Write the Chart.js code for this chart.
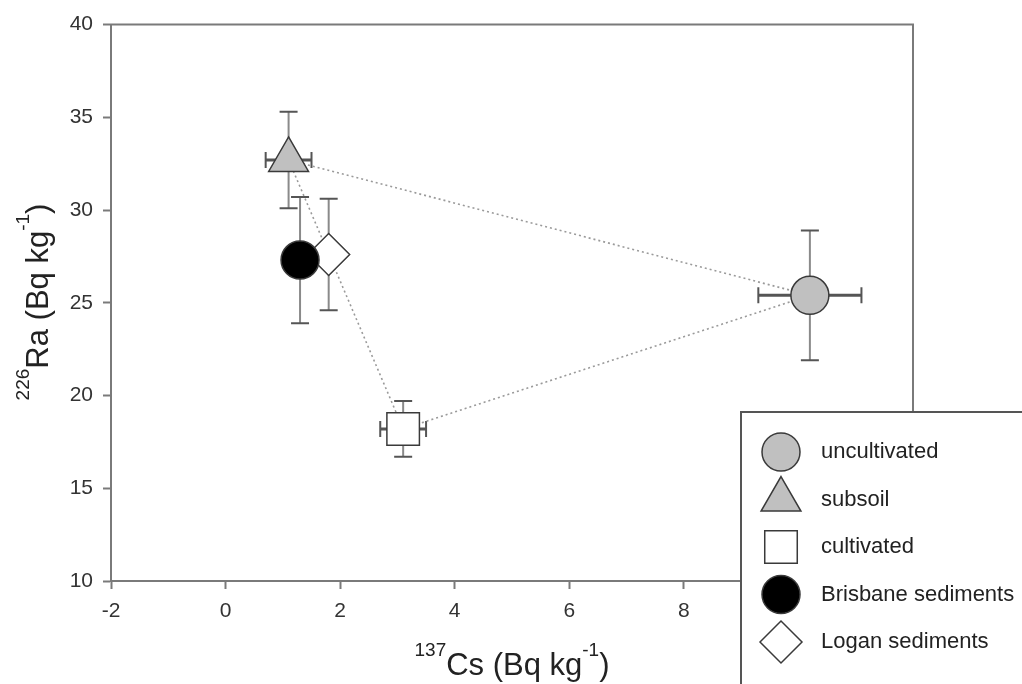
<!DOCTYPE html>
<html>
<head>
<meta charset="utf-8">
<script src="https://cdn.jsdelivr.net/npm/chart.js@4/dist/chart.umd.min.js"></script>
<style>
  html, body { margin: 0; padding: 0; background: #fff; }
</style>
</head>
<body>
<canvas id="chartCanvas" width="1022" height="684"></canvas>
<script>
// data
const groups = ['uncultivated', 'subsoil', 'cultivated', 'Brisbane sediments', 'Logan sediments'];
const csValues = [10.2, 1.1, 3.1, 1.3, 1.8];     // 137Cs, Bq/kg
const raValues = [25.4, 32.7, 18.2, 27.3, 27.6];  // 226Ra, Bq/kg
const csErrors = [0.9, 0.4, 0.4, 0, 0];
const raErrors = [3.5, 2.6, 1.5, 3.4, 3.0];
const polygonOrder = ['subsoil', 'uncultivated', 'cultivated', 'subsoil'];
const xTicks = [-2, 0, 2, 4, 6, 8];
const yTicks = [10, 15, 20, 25, 30, 35, 40];

const FONT = "'Liberation Sans', Arial, sans-serif";
const markerStyles = ['circle', 'triangle', 'rect', 'circle', 'rectRot'];
const markerSizes = [19, 23, 23, 19, 21];
const markerFills = ['#c0c0c0', '#c0c0c0', '#ffffff', '#000000', '#ffffff'];

const pointSets = groups.map((g, i) => ({
  label: g,
  data: [{ x: csValues[i], y: raValues[i] }],
  pointStyle: markerStyles[i],
  pointRadius: markerSizes[i],
  pointBackgroundColor: markerFills[i],
  pointBorderColor: '#3a3a3a',
  pointBorderWidth: 1.5,
  order: 1
}));

const polygon = {
  label: 'link',
  type: 'line',
  data: polygonOrder.map(g => ({ x: csValues[groups.indexOf(g)], y: raValues[groups.indexOf(g)] })),
  borderColor: '#9a9a9a',
  borderWidth: 1.6,
  borderDash: [2, 3],
  pointRadius: 0,
  fill: false,
  order: 5
};

function drawRich(ctx, parts, cx, cy, angle, size) {
  const supSize = Math.round(size * 0.62);
  ctx.save();
  ctx.translate(cx, cy);
  ctx.rotate(angle);
  let total = 0;
  parts.forEach(p => {
    ctx.font = (p.sup ? supSize : size) + 'px ' + FONT;
    p.w = ctx.measureText(p.t).width;
    total += p.w;
  });
  let x = -total / 2;
  ctx.fillStyle = '#222';
  ctx.textBaseline = 'alphabetic';
  ctx.textAlign = 'left';
  parts.forEach(p => {
    ctx.font = (p.sup ? supSize : size) + 'px ' + FONT;
    ctx.fillText(p.t, x, p.sup ? -size * 0.62 : 0);
    x += p.w;
  });
  ctx.restore();
}

const errorBars = {
  id: 'errorBars',
  beforeDatasetsDraw(chart) {
    const ctx = chart.ctx, xs = chart.scales.x, ys = chart.scales.y;
    const a = chart.chartArea;
    // frame
    ctx.save();
    ctx.strokeStyle = '#7a7a7a';
    ctx.lineWidth = 2;
    ctx.strokeRect(a.left, a.top, a.right - a.left, a.bottom - a.top);
    ctx.restore();

    ctx.save();
    groups.forEach((g, i) => {
      const px = xs.getPixelForValue(csValues[i]);
      const py = ys.getPixelForValue(raValues[i]);
      if (raErrors[i] > 0) {
        const t = ys.getPixelForValue(raValues[i] + raErrors[i]);
        const b = ys.getPixelForValue(raValues[i] - raErrors[i]);
        ctx.strokeStyle = '#8a8a8a';
        ctx.lineWidth = 2;
        ctx.beginPath();
        ctx.moveTo(px, t); ctx.lineTo(px, b);
        ctx.stroke();
        ctx.strokeStyle = '#555';
        ctx.beginPath();
        ctx.moveTo(px - 9, t); ctx.lineTo(px + 9, t);
        ctx.moveTo(px - 9, b); ctx.lineTo(px + 9, b);
        ctx.stroke();
      }
      if (csErrors[i] > 0) {
        const l = xs.getPixelForValue(csValues[i] - csErrors[i]);
        const r = xs.getPixelForValue(csValues[i] + csErrors[i]);
        ctx.strokeStyle = '#555';
        ctx.lineWidth = 3;
        ctx.beginPath();
        ctx.moveTo(l, py); ctx.lineTo(r, py);
        ctx.stroke();
        ctx.lineWidth = 2;
        ctx.beginPath();
        ctx.moveTo(l, py - 8); ctx.lineTo(l, py + 8);
        ctx.moveTo(r, py - 8); ctx.lineTo(r, py + 8);
        ctx.stroke();
      }
    });
    ctx.restore();
  },
  afterDraw(chart) {
    const ctx = chart.ctx;
    // axis titles with superscripts
    drawRich(ctx, [{ t: '137', sup: true }, { t: 'Cs (Bq kg' }, { t: '-1', sup: true }, { t: ')' }],
      512, 675, 0, 31);
    drawRich(ctx, [{ t: '226', sup: true }, { t: 'Ra (Bq kg' }, { t: '-1', sup: true }, { t: ')' }],
      48, 302, -Math.PI / 2, 31);

    // legend box, sits over the lower right corner of the plot
    ctx.save();
    ctx.fillStyle = '#fff';
    ctx.strokeStyle = '#555';
    ctx.lineWidth = 2;
    ctx.fillRect(741, 412, 400, 400);
    ctx.strokeRect(741, 412, 400, 400);
    groups.forEach((g, i) => {
      const y = 452 + i * 47.5;
      ctx.fillStyle = markerFills[i];
      ctx.strokeStyle = '#3a3a3a';
      ctx.lineWidth = 1.5;
      Chart.helpers.drawPoint(ctx, { pointStyle: markerStyles[i], radius: markerSizes[i], rotation: 0, borderWidth: 1.5 }, 781, y);
      ctx.fillStyle = '#222';
      ctx.font = '22px ' + FONT;
      ctx.textBaseline = 'middle';
      ctx.textAlign = 'left';
      ctx.fillText(g, 821, y);
    });
    ctx.restore();
  }
};

new Chart(document.getElementById('chartCanvas'), {
  type: 'scatter',
  data: { datasets: [polygon, ...pointSets] },
  options: {
    responsive: false,
    animation: false,
    layout: { padding: { left: 0, top: 23, right: 109, bottom: 0 } },
    plugins: { legend: { display: false }, tooltip: { enabled: false } },
    scales: {
      x: {
        type: 'linear',
        min: -2, max: 12,
        afterFit: s => { s.height = 103; },
        afterBuildTicks: s => { s.ticks = xTicks.map(v => ({ value: v })); },
        grid: { drawOnChartArea: false, tickLength: 8, tickColor: '#7a7a7a', tickWidth: 2 },
        border: { display: true, color: '#7a7a7a', width: 2 },
        ticks: { color: '#333', font: { family: FONT, size: 21 }, padding: 10 }
      },
      y: {
        type: 'linear',
        min: 10, max: 40,
        afterFit: s => { s.width = 111; },
        afterBuildTicks: s => { s.ticks = yTicks.map(v => ({ value: v })); },
        grid: { drawOnChartArea: false, tickLength: 8, tickColor: '#7a7a7a', tickWidth: 2 },
        border: { display: true, color: '#7a7a7a', width: 2 },
        ticks: { color: '#333', font: { family: FONT, size: 21 }, padding: 10 }
      }
    }
  },
  plugins: [errorBars]
});
</script>
</body>
</html>
